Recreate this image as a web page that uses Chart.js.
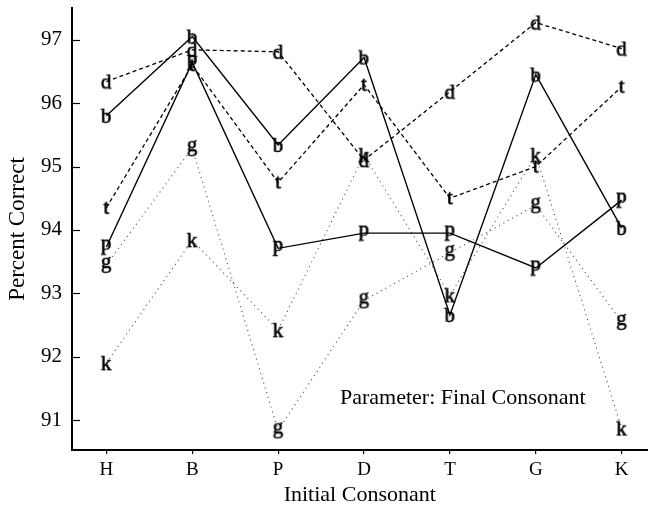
<!DOCTYPE html>
<html>
<head>
<meta charset="utf-8">
<script src="https://cdn.jsdelivr.net/npm/chart.js@4/dist/chart.umd.min.js"></script>
<style>
html,body{margin:0;padding:0;background:#fff;}
#wrap{width:648px;height:513px;}
</style>
</head>
<body>
<div id="wrap"><canvas id="c" width="648" height="513"></canvas></div>
<script>
const categories = ['H','B','P','D','T','G','K'];
const yTicks = [91,92,93,94,95,96,97];
const seriesB = [95.80, 97.05, 95.34, 96.72, 92.66, 96.45, 94.03];
const seriesD = [96.34, 96.84, 96.81, 95.10, 96.18, 97.27, 96.86];
const seriesT = [94.35, 96.60, 94.75, 96.29, 94.50, 95.00, 96.26];
const seriesP = [93.73, 96.64, 93.71, 93.95, 93.95, 93.40, 94.47];
const seriesG = [93.45, 95.29, 90.84, 92.89, 93.64, 94.39, 92.55];
const seriesK = [91.90, 93.84, 92.42, 95.18, 92.97, 95.18, 90.87];

const SERIF = "'Liberation Serif','DejaVu Serif',serif";

function letterCanvas(ch){
  const f = '21px ' + SERIF;
  const c = document.createElement('canvas');
  const ctx = c.getContext('2d');
  ctx.font = f;
  const m = ctx.measureText(ch);
  const w = Math.ceil(m.width) + 2;
  const asc = m.actualBoundingBoxAscent, desc = m.actualBoundingBoxDescent;
  const h = Math.ceil(asc + desc) + 2;
  c.width = w; c.height = h;
  const g = c.getContext('2d');
  g.font = f;
  g.fillStyle = '#000';
  g.strokeStyle = '#000';
  g.lineWidth = 0.6;
  g.textBaseline = 'alphabetic';
  g.fillText(ch, 1, 1 + asc);
  g.strokeText(ch, 1, 1 + asc);
  return c;
}

function mk(label, vals, dash, width, color){
  return {
    label: label,
    data: vals.map((v,i)=>({x:i, y:v})),
    borderColor: color,
    borderWidth: width,
    borderDash: dash,
    pointStyle: letterCanvas(label),
    pointRadius: 0.5,
    pointHoverRadius: 0.5,
    pointBorderWidth: 0,
    pointHoverBorderWidth: 0,
    pointBackgroundColor: '#000',
    showLine: true,
    tension: 0,
    fill: false,
    clip: false
  };
}

const datasets = [
  mk('b', seriesB, [], 1.4, '#000'),
  mk('d', seriesD, [4,3], 1.3, '#000'),
  mk('t', seriesT, [4,3], 1.3, '#000'),
  mk('p', seriesP, [], 1.4, '#000'),
  mk('g', seriesG, [1,4], 1.1, '#444'),
  mk('k', seriesK, [1,4], 1.1, '#444')
];

const extras = {
  id: 'extras',
  afterDraw(chart){
    const ctx = chart.ctx, y = chart.scales.y, x = chart.scales.x, a = chart.chartArea;
    ctx.save();
    ctx.strokeStyle = '#000';
    ctx.lineWidth = 1.2;
    yTicks.forEach(v=>{
      const py = Math.round(y.getPixelForValue(v)) + 0.5;
      ctx.beginPath(); ctx.moveTo(a.left, py); ctx.lineTo(a.left + 8, py); ctx.stroke();
    });
    ctx.fillStyle = '#000';
    ctx.font = '22px ' + SERIF;
    ctx.textAlign = 'center';
    ctx.textBaseline = 'middle';
    ctx.fillText('Parameter: Final Consonant', x.getPixelForValue(4.15), y.getPixelForValue(91.35));
    ctx.restore();
  }
};

new Chart(document.getElementById('c'), {
  type: 'scatter',
  data: { datasets: datasets },
  plugins: [extras],
  options: {
    responsive: false,
    animation: false,
    events: [],
    layout: { padding: { top: 8, right: 0, left: 0, bottom: 0 } },
    plugins: { legend: { display: false }, tooltip: { enabled: false } },
    scales: {
      x: {
        type: 'linear',
        min: -0.4, max: 6.3,
        afterBuildTicks: s => { s.ticks = categories.map((c,i)=>({value:i})); },
        afterFit: s => { s.height = 63; s.paddingLeft = 0; s.paddingRight = 0; },
        ticks: {
          callback: v => categories[v],
          color: '#000',
          font: { family: SERIF, size: 19 },
          padding: 5,
          maxRotation: 0, autoSkip: false
        },
        grid: { display: true, drawOnChartArea: false, tickLength: 4, color: '#000', lineWidth: 1.2 },
        border: { display: true, color: '#000', width: 2 },
        title: { display: true, text: 'Initial Consonant', color: '#000', font: { family: SERIF, size: 22 }, padding: { top: 0, bottom: 5 } }
      },
      y: {
        type: 'linear',
        min: 90.53, max: 97.5,
        afterBuildTicks: s => { s.ticks = yTicks.map(v=>({value:v})); },
        afterFit: s => { s.width = 72; s.paddingTop = 0; s.paddingBottom = 0; },
        ticks: {
          color: '#000',
          font: { family: SERIF, size: 21 },
          padding: 10
        },
        grid: { display: false, drawTicks: false },
        border: { display: true, color: '#000', width: 2 },
        title: { display: true, text: 'Percent Correct', color: '#000', font: { family: SERIF, size: 23 }, padding: { top: 4, bottom: 0 } }
      }
    }
  }
});
</script>
</body>
</html>
